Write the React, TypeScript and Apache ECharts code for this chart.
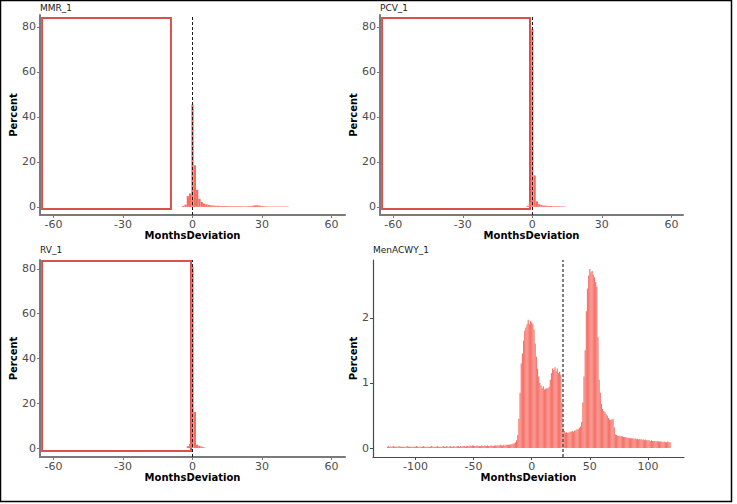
import React, { useEffect, useRef } from "react";
import * as echarts from "echarts";

// ---- data (percent per 1-month bin, bins centred on integer months) ----
const panelTitles = ["MMR_1", "PCV_1", "RV_1", "MenACWY_1"];

const mmrStart = -4;
const mmrValues = [
  0.4, 1.0, 4.8, 6.0, 45.5, 18.5, 7.6, 3.6, 2.2, 1.5,
  1.1, 0.9, 0.7, 0.6, 0.5, 0.5, 0.4, 0.4, 0.4, 0.35,
  0.35, 0.3, 0.3, 0.3, 0.3, 0.3, 0.25, 0.25, 0.3, 0.35,
  0.5, 0.7, 0.8, 0.6, 0.4, 0.3, 0.25, 0.2, 0.2, 0.2,
  0.2, 0.2, 0.2, 0.2, 0.2, 0.2,
];

const pcvStart = -2;
const pcvValues = [0.5, 2.2, 79, 14, 2.5, 1.2, 0.8, 0.6, 0.5, 0.4, 0.4, 0.3, 0.3, 0.3, 0.25, 0.2, 0.2];

const rvStart = -2;
const rvValues = [0.8, 1.8, 81, 16.2, 1.5, 1.0, 0.6, 0.3];

const menStart = -124;
const menValues = [
  // -124 .. -101
  0.02, 0.03, 0.02, 0.02, 0.02, 0.03, 0.02, 0.02, 0.02, 0.02,
  0.03, 0.02, 0.02, 0.02, 0.02, 0.02, 0.02, 0.03, 0.02, 0.02,
  0.02, 0.02, 0.02, 0.02,
  // -100 .. -76
  0.02, 0.03, 0.02, 0.02, 0.02, 0.02, 0.02, 0.03, 0.02, 0.02,
  0.02, 0.02, 0.02, 0.02, 0.03, 0.02, 0.02, 0.02, 0.02, 0.03,
  0.02, 0.02, 0.02, 0.02, 0.03,
  // -75 .. -51
  0.02, 0.02, 0.03, 0.02, 0.02, 0.03, 0.02, 0.02, 0.03, 0.02,
  0.02, 0.03, 0.03, 0.02, 0.03, 0.02, 0.03, 0.03, 0.02, 0.03,
  0.03, 0.03, 0.04, 0.03, 0.04,
  // -50 .. -26
  0.04, 0.03, 0.03, 0.04, 0.03, 0.03, 0.03, 0.04, 0.03, 0.03,
  0.04, 0.03, 0.04, 0.03, 0.03, 0.04, 0.04, 0.03, 0.04, 0.04,
  0.04, 0.04, 0.04, 0.05, 0.04,
  // -25 .. -13
  0.04, 0.05, 0.04, 0.05, 0.05, 0.05, 0.05, 0.06, 0.06, 0.07, 0.07, 0.09, 0.12,
  // -12 .. -1
  0.20, 0.45, 0.85, 1.30, 1.45, 1.65, 1.80, 1.85, 1.90, 1.97, 1.90, 1.95,
  // 0 .. 9
  1.93, 1.90, 1.82, 1.60, 1.40, 1.22, 1.10, 1.00, 0.96, 0.92,
  // 10 .. 19
  0.95, 0.90, 0.91, 0.92, 0.92, 0.94, 1.05, 1.15, 1.22, 1.20,
  // 20 .. 29
  1.24, 1.18, 1.22, 1.15, 1.17, 1.12, 0.70, 0.30, 0.26, 0.24,
  // 30 .. 39
  0.24, 0.23, 0.24, 0.25, 0.25, 0.26, 0.25, 0.27, 0.27, 0.29,
  // 40 .. 49
  0.29, 0.31, 0.33, 0.40, 0.70, 1.10, 1.50, 2.10, 2.45, 2.65,
  // 50 .. 59
  2.75, 2.70, 2.72, 2.66, 2.62, 2.55, 2.48, 1.70, 1.05, 0.85,
  // 60 .. 69
  0.68, 0.60, 0.57, 0.55, 0.52, 0.50, 0.46, 0.44, 0.43, 0.44,
  // 70 .. 79
  0.45, 0.32, 0.21, 0.20, 0.19, 0.19, 0.18, 0.18, 0.18, 0.17,
  // 80 .. 89
  0.17, 0.17, 0.16, 0.16, 0.15, 0.15, 0.15, 0.15, 0.14, 0.15,
  // 90 .. 99
  0.14, 0.14, 0.13, 0.14, 0.13, 0.13, 0.13, 0.12, 0.13, 0.12,
  // 100 .. 109
  0.12, 0.12, 0.11, 0.12, 0.11, 0.11, 0.11, 0.10, 0.11, 0.10,
  // 110 .. 119
  0.10, 0.10, 0.10, 0.09, 0.10, 0.09, 0.09, 0.10, 0.09, 0.09,
];

const smallXTicks = [-60, -30, 0, 30, 60];
const menXTicks = [-100, -50, 0, 50, 100];
const smallYTicks = [0, 20, 40, 60, 80];
const menYTicks = [0, 1, 2];

// reference (dashed) lines
const refLines = [0, 0, 0, 27];

// highlight rectangles: [xLeft, yTop, xRight, yBottom] in data units
const highlightBoxes = [
  [-64.9, 84, -9.3, -0.9],
  [-64.8, 84, -1.0, -0.9],
  [-64.9, 83.5, -0.65, -1.3],
];

const toPoints = (start: number, values: number[]) => values.map((v, i) => [start + i, v]);

const FONT = "DejaVu Sans";

export default function App() {
  const ref = useRef<HTMLDivElement>(null);

  useEffect(() => {
    if (!ref.current) return;
    const chart = echarts.init(ref.current, undefined, { renderer: "svg" });

    const grids = [
      { left: 40, top: 15, width: 305, height: 200 },
      { left: 380, top: 15, width: 303, height: 200 },
      { left: 40, top: 260, width: 305, height: 197 },
      { left: 373, top: 260, width: 311, height: 197 },
    ];
    const xRanges = [
      [-65.8, 65.8],
      [-65.7, 65.0],
      [-65.8, 65.8],
      [-136.5, 131],
    ];
    const yRanges = [
      [-3.6, 85.3],
      [-3.6, 85.3],
      [-4, 84],
      [-0.1375, 2.8875],
    ];
    const datasets = [
      toPoints(mmrStart, mmrValues),
      toPoints(pcvStart, pcvValues),
      toPoints(rvStart, rvValues),
      toPoints(menStart, menValues),
    ];

    const axisColor = (i: number) => (i < 3 ? "#7a7a7a" : "#4a4a4a");
    const axisWidth = (i: number) => (i < 3 ? 2 : 1.2);

    const xAxis = grids.map((_, i) => ({
      type: "value",
      gridIndex: i,
      min: xRanges[i][0],
      max: xRanges[i][1],
      name: "MonthsDeviation",
      nameLocation: "middle",
      nameGap: 15,
      nameTextStyle: { fontFamily: FONT, fontWeight: "bold", fontSize: 10, color: "#000" },
      axisLine: { show: true, onZero: false, lineStyle: { color: axisColor(i), width: axisWidth(i) } },
      axisTick: {
        show: true,
        length: 3,
        customValues: i < 3 ? smallXTicks : menXTicks,
        lineStyle: { color: axisColor(i), width: 1 },
      },
      axisLabel: {
        customValues: i < 3 ? smallXTicks : menXTicks,
        fontFamily: FONT,
        fontSize: 11,
        color: "#4d4d4d",
        margin: 4,
      },
      splitLine: { show: false },
    }));

    const yAxis = grids.map((_, i) => ({
      type: "value",
      gridIndex: i,
      min: yRanges[i][0],
      max: yRanges[i][1],
      name: "Percent",
      nameLocation: "middle",
      nameGap: i < 3 ? 19 : 11,
      nameTextStyle: { fontFamily: FONT, fontWeight: "bold", fontSize: 10, color: "#000" },
      axisLine: { show: true, onZero: false, lineStyle: { color: axisColor(i), width: axisWidth(i) } },
      axisTick: {
        show: true,
        length: 3,
        customValues: i < 3 ? smallYTicks : menYTicks,
        lineStyle: { color: axisColor(i), width: 1 },
      },
      axisLabel: {
        customValues: i < 3 ? smallYTicks : menYTicks,
        fontFamily: FONT,
        fontSize: 11,
        color: "#4d4d4d",
        margin: 4,
      },
      splitLine: { show: false },
    }));

    const series = datasets.map((data, i) => {
      const s: any = {
        type: "custom",
        xAxisIndex: i,
        yAxisIndex: i,
        data,
        encode: { x: 0, y: 1 },
        renderItem: (params: any, api: any) => {
          const x = api.value(0);
          const y = api.value(1);
          const p0 = api.coord([x - 0.5, y]);
          const p1 = api.coord([x + 0.5, 0]);
          return {
            type: "rect",
            shape: { x: p0[0], y: p0[1], width: p1[0] - p0[0], height: p1[1] - p0[1] },
            style: { fill: "#f66a60", stroke: "rgba(255,255,255,0.35)", lineWidth: 0.2 },
          };
        },
        markLine: {
          silent: true,
          symbol: ["none", "none"],
          label: { show: false },
          lineStyle: i < 3
            ? { color: "#1a1a1a", width: 1, type: [3, 2] }
            : { color: "#555", width: 1.5, type: [3, 2] },
          data: [{ xAxis: refLines[i] }],
        },
      };
      if (i < 3) {
        const b = highlightBoxes[i];
        s.markArea = {
          silent: true,
          label: { show: false },
          itemStyle: { color: "rgba(0,0,0,0)", borderColor: "#d9514e", borderWidth: 2 },
          data: [[{ coord: [b[0], b[1]] }, { coord: [b[2], b[3]] }]],
        };
      }
      return s;
    });

    const titleTops = [3, 3, 245, 245];
    const title = panelTitles.map((t, i) => ({
      text: t,
      left: grids[i].left,
      top: titleTops[i],
      padding: 0,
      textStyle: { fontFamily: FONT, fontSize: 9, fontWeight: "normal", color: "#1a1a1a" },
    }));

    chart.setOption({
      animation: false,
      backgroundColor: "#ffffff",
      title,
      grid: grids,
      xAxis,
      yAxis,
      series,
      graphic: [
        {
          type: "rect",
          shape: { x: 0.5, y: 0.5, width: 731, height: 501 },
          style: { fill: "none", stroke: "#000", lineWidth: 1.5 },
          silent: true,
        },
      ],
    });

    return () => chart.dispose();
  }, []);

  return (
    <div
      ref={ref}
      style={{ position: "absolute", left: 0, top: 0, width: 737, height: 504 }}
    />
  );
}
